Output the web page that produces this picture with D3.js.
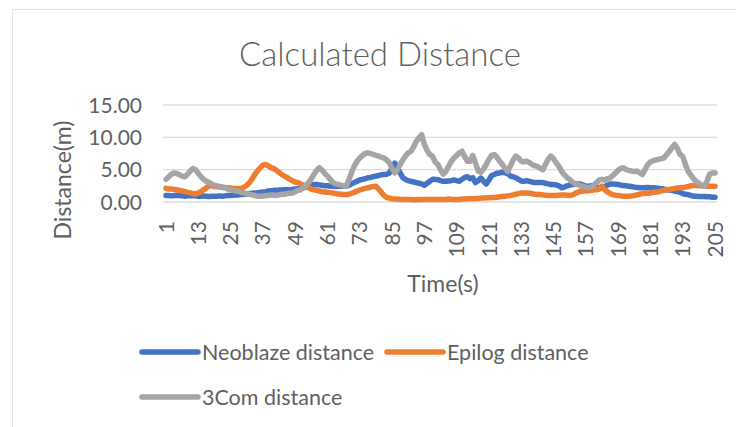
<!DOCTYPE html>
<html>
<head>
<meta charset="utf-8">
<script src="https://cdn.jsdelivr.net/npm/d3@7"></script>
<style>
  body { margin: 0; background: #fff; }
  svg { display: block; }
  text { font-family: Lato, "Open Sans", sans-serif; fill: #5f5f5f; }
</style>
</head>
<body>
<svg id="chart" width="736" height="427"></svg>
<script>
// Distance estimates (m) per second, t = 1..205
const neoblaze = [
  1.0, 1.0, 0.95, 1.0, 1.05, 1.0, 0.95, 0.9, 0.95, 0.95,
  1.0, 0.95, 0.9, 0.9, 0.95, 0.9, 0.85, 0.9, 0.9, 0.9,
  0.95, 0.9, 0.95, 1.0, 1.0, 1.05, 1.1, 1.1, 1.15, 1.2,
  1.25, 1.3, 1.35, 1.4, 1.4, 1.5, 1.55, 1.6, 1.7, 1.75,
  1.8, 1.8, 1.85, 1.85, 1.9, 1.9, 1.9, 1.95, 2.0, 2.05,
  2.1, 2.2, 2.3, 2.5, 2.6, 2.7, 2.7, 2.65, 2.6, 2.5,
  2.5, 2.45, 2.45, 2.4, 2.45, 2.45, 2.5, 2.45, 2.6, 2.8,
  3.0, 3.2, 3.4, 3.5, 3.6, 3.75, 3.8, 3.9, 4.0, 4.1,
  4.2, 4.25, 4.3, 4.5, 5.2, 6.0, 5.3, 4.5, 3.75, 3.5,
  3.3, 3.2, 3.1, 3.0, 2.9, 2.8, 2.6, 2.9, 3.2, 3.5,
  3.5, 3.45, 3.3, 3.2, 3.2, 3.25, 3.3, 3.4, 3.3, 3.2,
  3.5, 3.8, 3.9, 3.6, 3.75, 3.0, 3.3, 3.7, 3.2, 2.8,
  3.4, 4.1, 4.25, 4.45, 4.5, 4.6, 4.5, 4.4, 4.0, 3.9,
  3.75, 3.5, 3.25, 3.2, 3.3, 3.2, 3.1, 3.0, 3.0, 3.0,
  3.0, 2.9, 2.8, 2.7, 2.7, 2.65, 2.5, 2.2, 2.3, 2.5,
  2.6, 2.7, 2.75, 2.8, 2.8, 2.6, 2.45, 2.45, 2.5, 2.45,
  2.3, 2.2, 2.25, 2.4, 2.6, 2.8, 2.8, 2.75, 2.7, 2.6,
  2.55, 2.5, 2.45, 2.4, 2.3, 2.25, 2.2, 2.2, 2.2, 2.25,
  2.2, 2.2, 2.15, 2.1, 2.05, 2.0, 1.9, 1.85, 1.8, 1.7,
  1.6, 1.5, 1.3, 1.2, 1.15, 1.0, 0.9, 0.9, 0.85, 0.85,
  0.85, 0.8, 0.8, 0.75, 0.75
];

const epilog = [
  2.1, 2.0, 2.0, 1.95, 1.9, 1.8, 1.7, 1.6, 1.5, 1.4,
  1.3, 1.25, 1.4, 1.6, 1.9, 2.2, 2.55, 2.5, 2.4, 2.35,
  2.3, 2.25, 2.2, 2.2, 2.15, 2.1, 2.1, 2.05, 2.1, 2.3,
  2.6, 3.0, 3.6, 4.25, 4.8, 5.3, 5.7, 5.8, 5.6, 5.3,
  5.2, 4.9, 4.6, 4.25, 4.0, 3.8, 3.5, 3.3, 3.1, 3.0,
  2.8, 2.6, 2.4, 2.2, 2.0, 1.9, 1.8, 1.7, 1.6, 1.55,
  1.5, 1.45, 1.4, 1.3, 1.25, 1.2, 1.15, 1.15, 1.2, 1.35,
  1.5, 1.7, 1.85, 2.0, 2.1, 2.2, 2.3, 2.4, 2.45, 2.0,
  1.5, 1.0, 0.7, 0.6, 0.5, 0.45, 0.45, 0.4, 0.4, 0.4,
  0.4, 0.4, 0.35, 0.35, 0.4, 0.4, 0.4, 0.4, 0.4, 0.4,
  0.4, 0.4, 0.4, 0.4, 0.4, 0.45, 0.4, 0.4, 0.4, 0.4,
  0.45, 0.45, 0.5, 0.5, 0.5, 0.55, 0.55, 0.6, 0.6, 0.65,
  0.65, 0.7, 0.7, 0.75, 0.8, 0.85, 0.9, 0.95, 1.0, 1.1,
  1.2, 1.3, 1.4, 1.4, 1.4, 1.35, 1.3, 1.2, 1.15, 1.15,
  1.1, 1.05, 1.0, 1.0, 1.0, 1.0, 1.05, 1.1, 1.1, 1.05,
  1.0, 1.1, 1.3, 1.5, 1.65, 1.7, 1.7, 1.75, 1.8, 1.9,
  1.9, 2.0, 2.45, 1.9, 1.6, 1.3, 1.15, 1.05, 1.0, 0.95,
  0.9, 0.9, 0.9, 0.95, 1.0, 1.1, 1.2, 1.3, 1.3, 1.35,
  1.4, 1.5, 1.55, 1.6, 1.7, 1.8, 1.9, 1.95, 2.0, 2.1,
  2.15, 2.2, 2.25, 2.3, 2.4, 2.5, 2.55, 2.55, 2.5, 2.5,
  2.5, 2.45, 2.45, 2.45, 2.45
];

const threeCom = [
  3.5, 3.9, 4.3, 4.5, 4.4, 4.2, 4.0, 3.9, 4.3, 4.8,
  5.2, 5.0, 4.4, 3.9, 3.5, 3.2, 3.0, 2.8, 2.6, 2.5,
  2.4, 2.3, 2.2, 2.0, 1.9, 1.8, 1.7, 1.6, 1.5, 1.4,
  1.3, 1.2, 1.1, 1.0, 0.9, 0.9, 0.9, 1.0, 1.0, 1.1,
  1.05, 1.0, 1.1, 1.2, 1.2, 1.3, 1.35, 1.4, 1.6, 1.8,
  1.9, 2.2, 2.6, 3.0, 3.6, 4.3, 4.9, 5.3, 4.9, 4.4,
  4.0, 3.5, 3.0, 2.8, 2.7, 2.6, 2.5, 2.45, 3.5, 4.6,
  5.6, 6.3, 6.8, 7.2, 7.5, 7.6, 7.5, 7.35, 7.2, 7.1,
  6.9, 6.8, 6.5, 6.05, 5.2, 4.5, 5.0, 5.8, 6.5, 7.1,
  7.6, 7.85, 8.5, 9.4, 9.9, 10.4, 8.9, 8.0, 7.35, 7.1,
  6.2, 5.8, 5.0, 4.3, 4.75, 5.5, 6.3, 6.8, 7.2, 7.6,
  7.85, 7.0, 6.3, 6.3, 7.2, 6.0, 4.8, 4.6, 5.1, 5.8,
  6.6, 7.2, 7.35, 6.9, 6.3, 5.8, 5.2, 4.75, 5.6, 6.5,
  7.1, 6.8, 6.3, 6.2, 6.3, 6.1, 5.8, 5.6, 5.5, 5.2,
  5.0, 5.8, 6.6, 7.1, 6.7, 6.05, 5.5, 4.75, 4.2, 3.8,
  3.5, 3.1, 2.8, 2.7, 2.5, 2.45, 2.3, 2.2, 2.3, 2.6,
  3.0, 3.4, 3.5, 3.4, 3.6, 3.7, 4.1, 4.5, 4.9, 5.2,
  5.3, 5.0, 4.9, 4.8, 4.7, 4.8, 4.5, 4.25, 5.0, 5.8,
  6.2, 6.4, 6.5, 6.6, 6.7, 6.8, 7.3, 7.8, 8.4, 8.9,
  8.3, 7.35, 7.1, 5.8, 4.75, 4.2, 3.6, 3.2, 2.9, 2.6,
  2.45, 3.2, 4.3, 4.5, 4.5
];

const timeTicks = [1, 13, 25, 37, 49, 61, 73, 85, 97, 109, 121, 133, 145, 157, 169, 181, 193, 205];
const distanceTicks = [0, 5, 10, 15];

const seriesNames = ["Neoblaze distance", "Epilog distance", "3Com distance"];
const seriesColors = ["#4472C4", "#ED7D31", "#A5A5A5"];
const seriesValues = [neoblaze, epilog, threeCom];

const svg = d3.select("#chart");

// chart area border
svg.append("rect")
  .attr("x", 12.5).attr("y", 9.5)
  .attr("width", 800).attr("height", 500)
  .attr("fill", "none").attr("stroke", "#E3E3E3").attr("stroke-width", 1);

const x = d3.scaleLinear().domain([1, 205]).range([166, 715]);
const y = d3.scaleLinear().domain([0, 15]).range([202, 105]);

// horizontal gridlines
svg.append("g")
  .selectAll("line")
  .data(distanceTicks)
  .join("line")
  .attr("x1", 163).attr("x2", 717)
  .attr("y1", d => y(d)).attr("y2", d => y(d))
  .attr("stroke", "#DCDCDC").attr("stroke-width", 1.3);

// y axis tick labels
svg.append("g")
  .selectAll("text")
  .data(distanceTicks)
  .join("text")
  .attr("x", 142)
  .attr("y", d => y(d))
  .attr("dy", "0.36em")
  .attr("text-anchor", "end")
  .style("font-size", "21px")
  .text(d => d3.format(".2f")(d));

// x axis tick labels, rotated
svg.append("g")
  .selectAll("text")
  .data(timeTicks)
  .join("text")
  .attr("transform", d => `translate(${x(d)},221) rotate(-90)`)
  .attr("dy", "0.36em")
  .attr("text-anchor", "end")
  .style("font-size", "21px")
  .text(d => d);

// series lines
const line = d3.line()
  .x((d, i) => x(i + 1))
  .y(d => y(d));

svg.append("g")
  .selectAll("path")
  .data(seriesValues)
  .join("path")
  .attr("d", d => line(d))
  .attr("fill", "none")
  .attr("stroke", (d, i) => seriesColors[i])
  .attr("stroke-width", 5.5)
  .attr("stroke-linejoin", "round")
  .attr("stroke-linecap", "round");

// title
svg.append("text")
  .attr("x", 380).attr("y", 66)
  .attr("text-anchor", "middle")
  .style("font-size", "33px")
  .style("font-weight", 300)
  .text("Calculated Distance");

// axis titles
svg.append("text")
  .attr("x", 443).attr("y", 292)
  .attr("text-anchor", "middle")
  .style("font-size", "23px")
  .text("Time(s)");

svg.append("text")
  .attr("transform", "translate(71,180) rotate(-90)")
  .attr("text-anchor", "middle")
  .style("font-size", "23px")
  .text("Distance(m)");

// legend
const legendItems = [
  { x: 142, y: 352 },
  { x: 387, y: 352 },
  { x: 142, y: 397 }
];

const legend = svg.append("g")
  .selectAll("g")
  .data(seriesNames)
  .join("g")
  .attr("transform", (d, i) => `translate(${legendItems[i].x},${legendItems[i].y})`);

legend.append("line")
  .attr("x1", 0).attr("x2", 56)
  .attr("y1", 0).attr("y2", 0)
  .attr("stroke", (d, i) => seriesColors[i])
  .attr("stroke-width", 5.5)
  .attr("stroke-linecap", "round");

legend.append("text")
  .attr("x", 60)
  .attr("y", 0)
  .attr("dy", "0.36em")
  .style("font-size", "21.5px")
  .text(d => d);
</script>
</body>
</html>
